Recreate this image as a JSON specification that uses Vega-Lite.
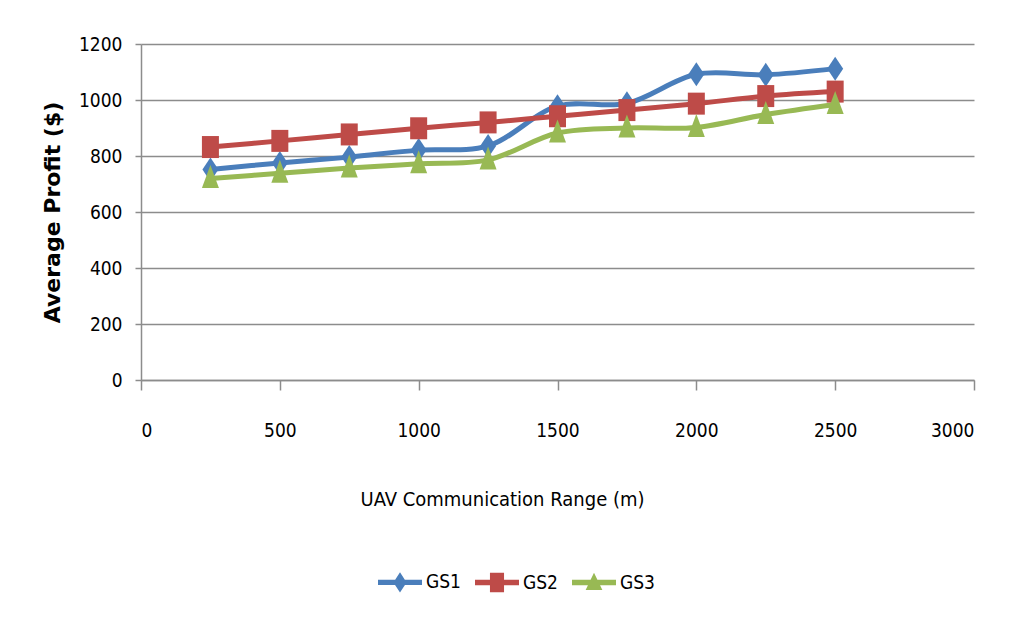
{
  "$schema": "https://vega.github.io/schema/vega-lite/v6.json",
  "width": 833,
  "height": 336,
  "autosize": "none",
  "padding": {"left": 141, "top": 44, "right": 39, "bottom": 247},
  "background": "white",
  "data": {
    "values": [
      {"range": 250, "series": "GS1", "profit": 752},
      {"range": 500, "series": "GS1", "profit": 775},
      {"range": 750, "series": "GS1", "profit": 796},
      {"range": 1000, "series": "GS1", "profit": 821},
      {"range": 1250, "series": "GS1", "profit": 836},
      {"range": 1500, "series": "GS1", "profit": 978},
      {"range": 1750, "series": "GS1", "profit": 988},
      {"range": 2000, "series": "GS1", "profit": 1092},
      {"range": 2250, "series": "GS1", "profit": 1090},
      {"range": 2500, "series": "GS1", "profit": 1112},
      {"range": 250, "series": "GS2", "profit": 832},
      {"range": 500, "series": "GS2", "profit": 854},
      {"range": 750, "series": "GS2", "profit": 877},
      {"range": 1000, "series": "GS2", "profit": 899},
      {"range": 1250, "series": "GS2", "profit": 920},
      {"range": 1500, "series": "GS2", "profit": 942},
      {"range": 1750, "series": "GS2", "profit": 964},
      {"range": 2000, "series": "GS2", "profit": 987},
      {"range": 2250, "series": "GS2", "profit": 1014},
      {"range": 2500, "series": "GS2", "profit": 1030},
      {"range": 250, "series": "GS3", "profit": 720},
      {"range": 500, "series": "GS3", "profit": 738},
      {"range": 750, "series": "GS3", "profit": 757},
      {"range": 1000, "series": "GS3", "profit": 772},
      {"range": 1250, "series": "GS3", "profit": 786},
      {"range": 1500, "series": "GS3", "profit": 882},
      {"range": 1750, "series": "GS3", "profit": 900},
      {"range": 2000, "series": "GS3", "profit": 902},
      {"range": 2250, "series": "GS3", "profit": 948},
      {"range": 2500, "series": "GS3", "profit": 984}
    ]
  },
  "encoding": {
    "x": {
      "field": "range", "type": "quantitative",
      "scale": {"domain": [0, 3000], "nice": false},
      "axis": {
        "values": [0, 500, 1000, 1500, 2000, 2500, 3000],
        "format": "d",
        "title": "UAV Communication Range (m)",
        "titleFontWeight": "normal",
        "titleFontSize": 20,
        "titleX": 361,
        "grid": false,
        "tickSize": 10,
        "labelPadding": 31,
        "titlePadding": 49
      }
    },
    "y": {
      "field": "profit", "type": "quantitative",
      "scale": {"domain": [0, 1200], "nice": false},
      "axis": {
        "values": [0, 200, 400, 600, 800, 1000, 1200],
        "format": "d",
        "title": "Average Profit ($)",
        "titleFont": "DejaVu Sans, sans-serif",
        "titleFontSize": 22,
        "tickSize": 6,
        "labelPadding": 13,
        "titlePadding": 14
      }
    },
    "color": {
      "field": "series", "type": "nominal",
      "scale": {"domain": ["GS1", "GS2", "GS3"], "range": ["#4A7EBB", "#BE4B48", "#98B954"]},
      "legend": {
        "title": null, "orient": "none", "direction": "horizontal",
        "legendX": 237, "legendY": 516,
        "symbolSize": 1936,
        "columnPadding": 14,
        "labelOffset": 4,
        "encode": {
          "symbols": {
            "update": {
              "shape": {"signal": "datum.value === 'GS1' ? 'M-1,-0.12H1V0.12H-1Z M0,-0.46L0.3,0L0,0.46L-0.3,0Z' : datum.value === 'GS2' ? 'M-1,-0.12H1V0.12H-1Z M-0.32,-0.44H0.32V0.44H-0.32Z' : 'M-1,-0.12H1V0.12H-1Z M0,-0.44L0.38,0.34H-0.38Z'"},
              "fill": {"signal": "scale('color', datum.value)"},
              "fillOpacity": {"value": 1},
              "opacity": {"value": 1},
              "strokeWidth": {"value": 0}
            }
          }
        }
      }
    }
  },
  "layer": [
    {
      "mark": {"type": "line", "strokeWidth": 5, "interpolate": "catmull-rom"}
    },
    {
      "transform": [{"filter": "datum.series === 'GS1'"}],
      "mark": {"type": "point", "filled": true, "opacity": 1, "size": 400, "shape": "M0,-1.2L0.8,0L0,1.2L-0.8,0Z"}
    },
    {
      "transform": [{"filter": "datum.series === 'GS2'"}],
      "mark": {"type": "point", "filled": true, "opacity": 1, "size": 400, "shape": "M-0.85,-1.1H0.85V1.1H-0.85Z"}
    },
    {
      "transform": [{"filter": "datum.series === 'GS3'"}],
      "mark": {"type": "point", "filled": true, "opacity": 1, "size": 400, "shape": "M0,-1.35L0.85,0.95H-0.85Z"}
    }
  ],
  "config": {
    "font": "DejaVu Sans Condensed, Liberation Sans Narrow, sans-serif",
    "view": {"stroke": null},
    "axis": {
      "domainColor": "#8c8c8c",
      "domainWidth": 1.5,
      "tickColor": "#8c8c8c",
      "tickWidth": 1.5,
      "gridColor": "#8c8c8c",
      "gridWidth": 1.5,
      "labelFont": "DejaVu Sans Condensed, Liberation Sans Narrow, sans-serif",
      "labelFontSize": 19,
      "labelColor": "#000",
      "labelFontWeight": "normal",
      "titleFont": "DejaVu Sans Condensed, Liberation Sans Narrow, sans-serif",
      "titleFontSize": 19,
      "titleFontWeight": "bold",
      "titleColor": "#000"
    },
    "legend": {
      "labelFont": "DejaVu Sans Condensed, Liberation Sans Narrow, sans-serif",
      "labelFontSize": 19,
      "labelColor": "#000"
    }
  }
}
